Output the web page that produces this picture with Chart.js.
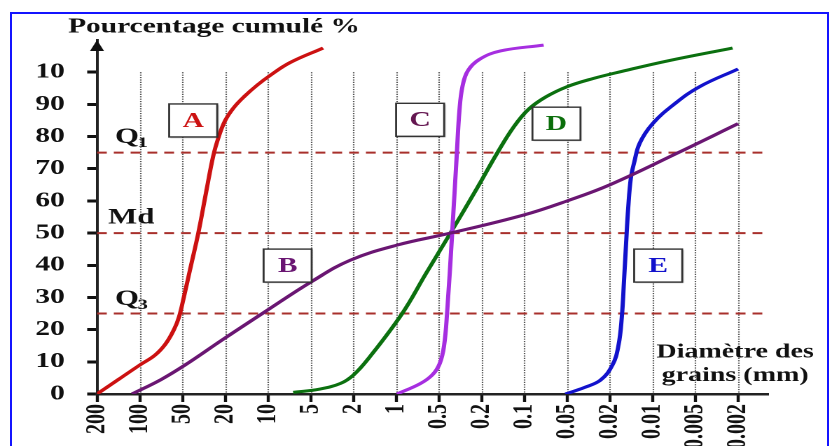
<!DOCTYPE html>
<html>
<head>
<meta charset="utf-8">
<script src="https://cdn.jsdelivr.net/npm/chart.js@4.4.1/dist/chart.umd.min.js"></script>
<style>
  html, body { margin: 0; padding: 0; background: #fff; overflow: hidden; }
  #wrap { position: absolute; left: 0; top: 0; width: 594px; height: 446px;
          transform: scaleX(1.40067); transform-origin: 0 0; }
  #frame { position: absolute; left: 10px; top: 12px; width: 815px; height: 470px;
           border: 2px solid #1414ff; border-bottom: none; pointer-events: none; }
</style>
</head>
<body>
<div id="wrap"><canvas id="chart"></canvas></div>
<div id="frame"></div>
<script>
// the picture is wide and flat, so the canvas is drawn narrow and stretched sideways
const S = 832 / 594;
const SERIF = '"Liberation Serif", "DejaVu Serif", serif';

// sieve openings (mm), equally spaced on the axis
const sieveLabels = ['200', '100', '50', '20', '10', '5', '2', '1', '0.5', '0.2', '0.1', '0.05', '0.02', '0.01', '0.005', '0.002'];
// percentage ticks (the top one reads "10" in the original)
const pctLabels = ['0', '10', '20', '30', '40', '50', '60', '70', '80', '90', '10'];
const quartiles = [75, 50, 25];

// [position on the sieve axis, cumulative %]
const curveA = [[0, 0], [0.5, 4.5], [1.0, 9], [1.35, 12], [1.6, 15.5], [1.8, 20], [1.92, 24], [2.03, 30], [2.2, 40], [2.37, 50], [2.55, 62.5], [2.72, 74], [2.85, 80], [3.0, 85], [3.2, 89], [3.45, 92.5], [3.75, 96], [4.05, 99], [4.52, 103], [5.29, 107.5]];
const curveB = [[0.82, 0], [1.5, 4.5], [2.06, 9], [2.95, 17], [3.9, 25.3], [5.03, 35], [5.93, 41.6], [7.03, 46.3], [8.27, 50], [9.98, 55.6], [11.0, 60], [12.0, 65], [13.6, 75], [15.0, 84]];
const curveC = [[7.02, 0], [7.56, 3.2], [7.85, 6], [8.02, 9.5], [8.12, 15], [8.19, 25], [8.31, 50], [8.42, 75], [8.48, 88], [8.55, 95.5], [8.68, 100.5], [8.95, 104], [9.44, 106.6], [10.45, 108.4]];
const curveD = [[4.59, 0.5], [5.2, 1.5], [5.7, 3.3], [6.0, 5.9], [6.35, 11], [7.14, 25], [7.7, 37.5], [8.27, 50], [8.85, 63], [9.37, 75], [9.75, 83], [10.1, 88.5], [10.5, 92.3], [11.0, 95.5], [11.6, 98], [12.3, 100.3], [13.35, 103.5], [14.87, 107.5]];
const curveE = [[10.96, 0], [11.4, 2], [11.78, 4.3], [12.06, 9], [12.2, 15], [12.28, 24], [12.33, 35], [12.38, 47], [12.43, 58], [12.49, 67], [12.57, 72], [12.7, 78], [13.0, 84], [13.5, 90], [14.1, 95.5], [15.0, 101]];

const curves = [curveA, curveB, curveC, curveD, curveE];
const curveNames = ['A', 'B', 'C', 'D', 'E'];
const curveColors = ['#cc1111', '#6a1672', '#a62ee0', '#0b700f', '#1212cc'];
const letterColors = ['#cc1111', '#6a1672', '#641650', '#0b6e0b', '#1212cc'];

// where the name boxes and the quartile marks sit, in axis units
const boxPos = [[2.25, 85], [4.46, 39.9], [7.56, 85.2], [10.75, 84], [13.13, 39.9]];
const quartileNames = [['Q', '1', 0.42, 78], ['Md', '', 0.26, 53], ['Q', '3', 0.42, 27.6]];

const xMax = 15.7;
const yMax = 110;

const datasets = curves.map((pts, i) => ({
  label: curveNames[i],
  data: pts.map(p => ({ x: p[0], y: p[1] })),
  borderColor: curveColors[i],
  borderWidth: 3,
  pointRadius: 0,
  tension: 0.4,
  fill: false,
}));
quartiles.forEach(q => {
  datasets.push({
    label: 'q' + q,
    data: [{ x: 0, y: q }, { x: xMax, y: q }],
    borderColor: '#a8302c',
    borderWidth: 2,
    borderDash: [7, 5],
    pointRadius: 0,
  });
});

const decor = {
  id: 'decor',
  beforeDatasetsDraw(chart) {
    const { ctx, scales: { x, y } } = chart;
    ctx.save();
    ctx.strokeStyle = '#555';
    ctx.lineWidth = 1.1;
    ctx.setLineDash([1.2, 1.2]);
    for (let i = 1; i < sieveLabels.length; i++) {
      const px = Math.round(x.getPixelForValue(i)) + 0.5;
      ctx.beginPath();
      ctx.moveTo(px, y.getPixelForValue(100));
      ctx.lineTo(px, y.getPixelForValue(0));
      ctx.stroke();
    }
    ctx.restore();
  },
  afterDraw(chart) {
    const { ctx, chartArea, scales: { x, y } } = chart;
    ctx.save();

    // arrow on top of the y axis
    ctx.fillStyle = '#111';
    ctx.beginPath();
    ctx.moveTo(chartArea.left, chartArea.top);
    ctx.lineTo(chartArea.left - 5, chartArea.top + 11);
    ctx.lineTo(chartArea.left + 5, chartArea.top + 11);
    ctx.closePath();
    ctx.fill();

    // titles
    ctx.fillStyle = '#111';
    ctx.textBaseline = 'middle';
    ctx.textAlign = 'center';
    ctx.font = 'bold 21px ' + SERIF;
    ctx.fillText('Pourcentage cumulé %', 214 / S, 27);
    ctx.font = 'bold 20px ' + SERIF;
    ctx.fillText('Diamètre des', x.getPixelForValue(14.93), y.getPixelForValue(13));
    ctx.fillText('grains (mm)', x.getPixelForValue(14.93), y.getPixelForValue(5.6));

    // quartile marks
    ctx.textAlign = 'left';
    ctx.textBaseline = 'alphabetic';
    quartileNames.forEach(([main, sub, qx, qy]) => {
      const px = x.getPixelForValue(qx);
      const py = y.getPixelForValue(qy);
      ctx.font = 'bold 22px ' + SERIF;
      ctx.fillText(main, px, py);
      const w = ctx.measureText(main).width;
      if (sub) {
        ctx.font = 'bold 15px ' + SERIF;
        ctx.fillText(sub, px + w - 1, py + 4);
      }
    });

    // name boxes
    ctx.textAlign = 'center';
    ctx.textBaseline = 'middle';
    boxPos.forEach(([bx, by], i) => {
      const cx = x.getPixelForValue(bx);
      const cy = y.getPixelForValue(by);
      const w = 34.3, h = 33;
      ctx.save();
      ctx.shadowColor = 'rgba(0,0,0,0.35)';
      ctx.shadowOffsetX = 1.5;
      ctx.shadowOffsetY = 2;
      ctx.shadowBlur = 2;
      ctx.fillStyle = '#fff';
      ctx.fillRect(cx - w / 2, cy - h / 2, w, h);
      ctx.restore();
      ctx.strokeStyle = '#333';
      ctx.lineWidth = 1.4;
      ctx.strokeRect(cx - w / 2, cy - h / 2, w, h);
      ctx.fillStyle = letterColors[i];
      ctx.font = 'bold 21px ' + SERIF;
      ctx.fillText(curveNames[i], cx, cy + 1);
    });

    ctx.restore();
  },
};

new Chart(document.getElementById('chart'), {
  type: 'line',
  data: { datasets },
  options: {
    responsive: true,
    maintainAspectRatio: false,
    animation: false,
    devicePixelRatio: 2,
    layout: { padding: { left: 0, right: 594 - 768 / S, top: 40, bottom: 0 } },
    plugins: { legend: { display: false }, tooltip: { enabled: false } },
    scales: {
      x: {
        type: 'linear',
        min: 0,
        max: xMax,
        afterBuildTicks: (scale) => {
          scale.ticks = sieveLabels.map((_, i) => ({ value: i }));
        },
        afterFit: (scale) => { scale.height = 52; },
        ticks: {
          autoSkip: false,
          maxRotation: 90,
          minRotation: 90,
          padding: 2,
          color: '#111',
          font: { family: SERIF, weight: 'bold', size: 20 },
          callback: (value) => sieveLabels[value],
        },
        grid: { drawOnChartArea: false, drawTicks: true, tickLength: 8, tickWidth: 2.2, tickColor: '#111' },
        border: { display: true, color: '#222', width: 2.5 },
      },
      y: {
        type: 'linear',
        min: 0,
        max: yMax,
        afterBuildTicks: (scale) => {
          scale.ticks = pctLabels.map((_, i) => ({ value: i * 10 }));
        },
        afterFit: (scale) => { scale.width = 97 / S; },
        ticks: {
          padding: 16,
          color: '#111',
          font: { family: SERIF, weight: 'bold', size: 21 },
          callback: (value) => pctLabels[Math.round(value / 10)],
        },
        grid: { drawOnChartArea: false, drawTicks: true, tickLength: 7, tickWidth: 3, tickColor: '#111' },
        border: { display: true, color: '#222', width: 2 },
      },
    },
  },
  plugins: [decor],
});
</script>
</body>
</html>
